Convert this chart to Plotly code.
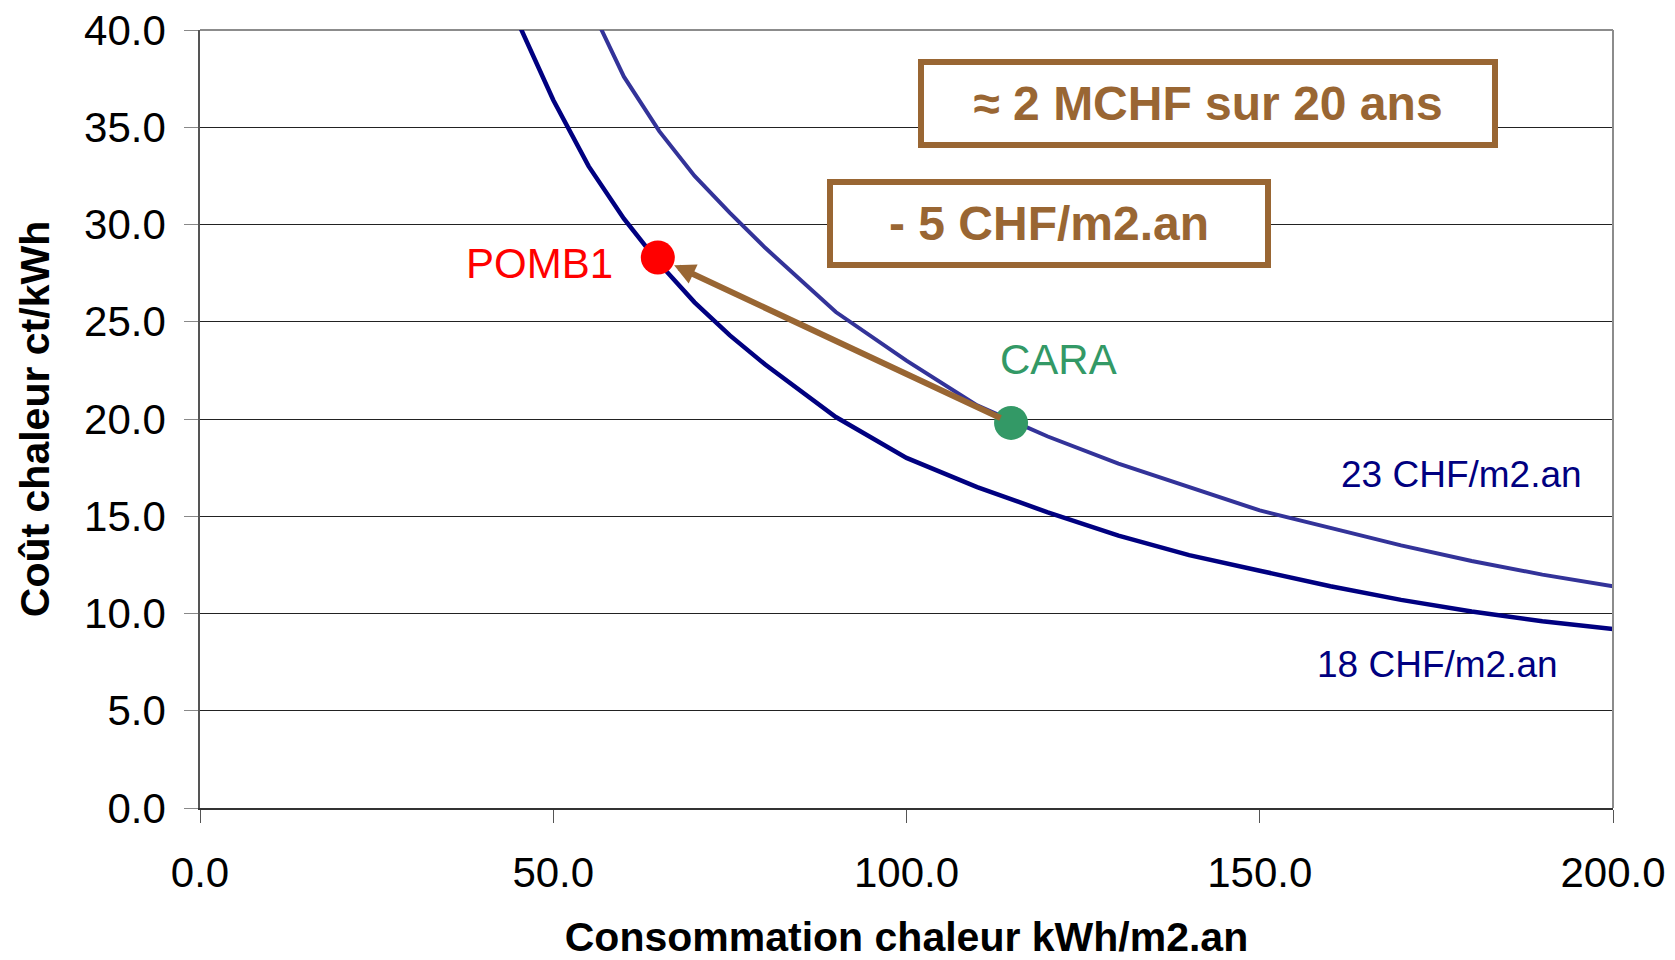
import plotly.graph_objects as go

# Data
x18 = [45, 50, 55, 60, 65, 70, 75, 80, 90, 100, 110, 120, 130, 140, 150, 160, 170, 180, 190, 200]
y18 = [40.4, 36.4, 33.0, 30.3, 28.0, 26.0, 24.3, 22.8, 20.1, 18.0, 16.5, 15.2, 14.0, 13.0, 12.2, 11.4, 10.7, 10.1, 9.6, 9.2]

x23 = [55, 60, 65, 70, 75, 80, 90, 100, 110, 120, 130, 140, 150, 160, 170, 180, 190, 200]
y23 = [41.4, 37.6, 34.8, 32.5, 30.6, 28.8, 25.5, 23.0, 20.7, 19.1, 17.7, 16.5, 15.3, 14.4, 13.5, 12.7, 12.0, 11.4]

pomb_x = [64.8]
pomb_y = [28.3]
cara_x = [114.8]
cara_y = [19.8]

x_ticks = [0, 50, 100, 150, 200]
y_ticks = [0, 5, 10, 15, 20, 25, 30, 35, 40]

FONT = "Liberation Sans, Arial, sans-serif"
BROWN = "#996633"
NAVY = "#000080"

fig = go.Figure()
fig.add_trace(go.Scatter(x=x18, y=y18, mode="lines",
                         line=dict(color=NAVY, width=4.5), showlegend=False))
fig.add_trace(go.Scatter(x=x23, y=y23, mode="lines",
                         line=dict(color="#333399", width=4), showlegend=False))
fig.add_trace(go.Scatter(x=cara_x, y=cara_y, mode="markers",
                         marker=dict(color="#339966", size=34), showlegend=False))
fig.add_trace(go.Scatter(x=pomb_x, y=pomb_y, mode="markers",
                         marker=dict(color="#ff0000", size=34), showlegend=False))

annotations = [
    # arrow CARA -> POMB1
    dict(x=pomb_x[0], y=pomb_y[0], ax=cara_x[0], ay=cara_y[0], xref="x", yref="y",
         axref="x", ayref="y", text="", showarrow=True, arrowhead=2, arrowsize=0.7,
         arrowwidth=6, arrowcolor=BROWN, standoff=18, startstandoff=10),
    dict(x=pomb_x[0], y=pomb_y[0], xref="x", yref="y", text="POMB1", showarrow=False,
         xanchor="right", yanchor="middle", xshift=-43, yshift=-6,
         font=dict(family=FONT, size=42, color="#ff0000")),
    dict(x=cara_x[0], y=cara_y[0], xref="x", yref="y", text="CARA", showarrow=False,
         xanchor="center", yanchor="middle", xshift=47, yshift=63,
         font=dict(family=FONT, size=42, color="#339966")),
    dict(x=178.5, y=17.15, xref="x", yref="y", text="23 CHF/m2.an", showarrow=False,
         xanchor="center", yanchor="middle",
         font=dict(family=FONT, size=37, color=NAVY)),
    dict(x=175.2, y=7.36, xref="x", yref="y", text="18 CHF/m2.an", showarrow=False,
         xanchor="center", yanchor="middle",
         font=dict(family=FONT, size=37, color=NAVY)),
    dict(x=142.7, y=36.24, xref="x", yref="y", text="<b>≈ 2 MCHF sur 20 ans</b>",
         showarrow=False, xanchor="center", yanchor="middle",
         width=566, height=75, borderwidth=6, borderpad=1, bordercolor=BROWN,
         bgcolor="white", font=dict(family=FONT, size=48, color=BROWN)),
    dict(x=120.2, y=30.03, xref="x", yref="y", text="<b>- 5 CHF/m2.an</b>",
         showarrow=False, xanchor="center", yanchor="middle",
         width=430, height=75, borderwidth=6, borderpad=1, bordercolor=BROWN,
         bgcolor="white", font=dict(family=FONT, size=48, color=BROWN)),
]

shapes = [
    dict(type="line", xref="paper", yref="paper", x0=1, x1=1, y0=0, y1=1,
         line=dict(color="#8c8c8c", width=2), layer="above"),
    dict(type="line", xref="paper", yref="paper", x0=0, x1=1, y0=1, y1=1,
         line=dict(color="#8c8c8c", width=2), layer="below"),
]

fig.update_layout(
    width=1675, height=960,
    margin=dict(l=200, r=62, t=30, b=152, autoexpand=False),
    paper_bgcolor="white", plot_bgcolor="white",
    font=dict(family=FONT, size=42, color="black"),
    annotations=annotations, shapes=shapes,
    xaxis=dict(range=[0, 200], tickvals=x_ticks, tickformat=".1f",
               showgrid=False, zeroline=False, showline=True, linecolor="#333",
               linewidth=2, ticks="outside", ticklen=13, tickcolor="#555",
               ticklabelstandoff=14,
               tickfont=dict(family=FONT, size=42, color="black"),
               title=dict(text="<b>Consommation chaleur kWh/m2.an</b>",
                          font=dict(family=FONT, size=41, color="black"), standoff=30)),
    yaxis=dict(range=[0, 40], tickvals=y_ticks, tickformat=".1f",
               showgrid=True, gridcolor="#222", gridwidth=1, zeroline=False,
               showline=True, linecolor="#555", linewidth=1.5,
               ticks="outside", ticklen=14, tickcolor="#888",
               ticklabelstandoff=10,
               tickfont=dict(family=FONT, size=42, color="black"),
               title=dict(text="<b>Coût chaleur ct/kWh</b>",
                          font=dict(family=FONT, size=41, color="black"), standoff=22)),
)

fig.write_html("out.html")
